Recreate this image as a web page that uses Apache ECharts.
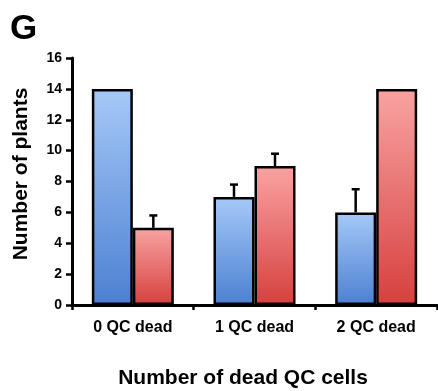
<!DOCTYPE html>
<html><head><meta charset="utf-8">
<script src="https://cdn.jsdelivr.net/npm/echarts@6/dist/echarts.min.js"></script>
<style>html,body{margin:0;padding:0;background:#fff}#c{width:438px;height:391px}</style>
</head><body><div id="c"></div>
<script>
const categories = ['0 QC dead', '1 QC dead', '2 QC dead'];
const blueValues = [14, 7, 6];
const redValues = [5, 9, 14];
const blueErrors = [0, 0.8, 1.5];
const redErrors = [0.8, 0.8, 0];
const yTicks = [0, 2, 4, 6, 8, 10, 12, 14, 16];

const chart = echarts.init(document.getElementById('c'), null, {renderer: 'canvas'});
const BW = 41;
function grad(top, bottom) {
  return new echarts.graphic.LinearGradient(0, 0, 0, 1, [{offset: 0, color: top}, {offset: 1, color: bottom}]);
}
const errData = [];
blueValues.forEach((v, i) => { if (blueErrors[i] > 0) errData.push([i, v, blueErrors[i], -1]); });
redValues.forEach((v, i) => { if (redErrors[i] > 0) errData.push([i, v, redErrors[i], 1]); });

const font = 'Liberation Sans, Arial, sans-serif';
chart.setOption({
  animation: false,
  grid: {left: 72, right: 1, top: 58, bottom: 86},
  xAxis: {
    type: 'category', data: categories,
    axisLine: {lineStyle: {color: '#000', width: 3}},
    axisTick: {show: true, length: 5, lineStyle: {color: '#000', width: 2.5}, alignWithLabel: false},
    axisLabel: {color: '#000', fontWeight: 'bold', fontSize: 16, fontFamily: font, margin: 15}
  },
  yAxis: {
    type: 'value', min: yTicks[0], max: yTicks[yTicks.length - 1], interval: 2,
    axisLine: {show: true, lineStyle: {color: '#000', width: 3}},
    axisTick: {show: true, length: 6, lineStyle: {color: '#000', width: 2.5}},
    splitLine: {show: false},
    axisLabel: {color: '#000', fontWeight: 'bold', fontSize: 14, fontFamily: font, margin: 10}
  },
  series: [
    {type: 'bar', data: blueValues, barWidth: BW, barGap: '0%',
     itemStyle: {color: grad('#a6c9f7', '#4b80d2'), borderColor: '#000', borderWidth: 2.5}},
    {type: 'bar', data: redValues, barWidth: BW, barGap: '0%',
     itemStyle: {color: grad('#f9a3a2', '#d5403e'), borderColor: '#000', borderWidth: 2.5}},
    {type: 'custom', data: errData, z: 5,
     renderItem: function (params, api) {
       const cat = api.value(0), v = api.value(1), e = api.value(2), side = api.value(3);
       const p0 = api.coord([cat, v]);
       const p1 = api.coord([cat, v + e]);
       const x = p0[0] + side * BW / 2;
       return {type: 'group', children: [
         {type: 'line', shape: {x1: x, y1: p0[1], x2: x, y2: p1[1]}, style: {stroke: '#000', lineWidth: 2.5}},
         {type: 'line', shape: {x1: x - 4, y1: p1[1], x2: x + 4, y2: p1[1]}, style: {stroke: '#000', lineWidth: 2.5}}
       ]};
     }}
  ],
  graphic: [
    {type: 'text', left: 10, top: 12, style: {text: 'G', font: 'bold 35px ' + font, fill: '#000'}},
    {type: 'text', x: 21, y: 174, rotation: Math.PI / 2,
     style: {text: 'Number of plants', font: 'bold 21px ' + font, fill: '#000', textAlign: 'center', textVerticalAlign: 'middle'}},
    {type: 'text', x: 243, y: 378,
     style: {text: 'Number of dead QC cells', font: 'bold 21px ' + font, fill: '#000', textAlign: 'center', textVerticalAlign: 'middle'}}
  ]
});
</script></body></html>
